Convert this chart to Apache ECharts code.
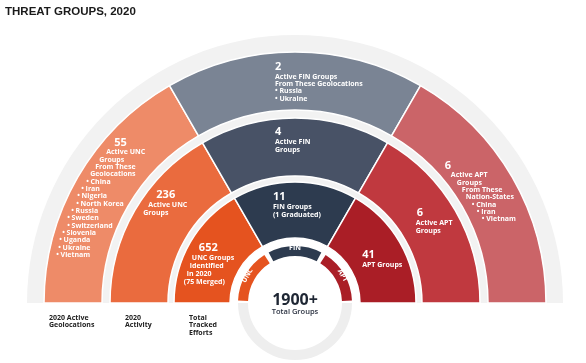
<!DOCTYPE html>
<html><head><meta charset="utf-8">
<script src="https://cdn.jsdelivr.net/npm/echarts@6/dist/echarts.min.js"></script>
<style>html,body{margin:0;padding:0;background:#fff}#c{width:586px;height:363px}</style>
</head><body><div id="c"></div>
<script>
// ---------------- DATA ----------------
const groups = ['UNC', 'FIN', 'APT'];
const sliceShare = [1, 1, 1];            // equal-angle sectors in the infographic
const geoCounts = [55, 2, 6];            // 2020 Active Geolocations
const activeCounts = [236, 4, 6];        // 2020 Activity
const trackedCounts = [652, 11, 41];     // Total Tracked Efforts
const totalGroups = '1900+';
const totalLabel = 'Total Groups';
const uncGeolocations = ['China', 'Iran', 'Nigeria', 'North Korea', 'Russia', 'Sweden', 'Switzerland', 'Slovenia', 'Uganda', 'Ukraine', 'Vietnam'];
const finGeolocations = ['Russia', 'Ukraine'];
const aptNationStates = ['China', 'Iran', 'Vietnam'];
const ringTitles = [['2020 Active', 'Geolocations'], ['2020', 'Activity'], ['Total', 'Tracked', 'Efforts']];
const chartTitle = 'THREAT GROUPS, 2020';

const bullet = s => '\u2022 ' + s;
const geoText = [
  ['Active UNC', 'Groups', 'From These', 'Geolocations'].concat(uncGeolocations.map(bullet)),
  ['Active FIN Groups', 'From These Geolocations'].concat(finGeolocations.map(bullet)),
  ['Active APT', 'Groups', 'From These', 'Nation-States'].concat(aptNationStates.map(bullet))
];
const activeText = [['Active UNC', 'Groups'], ['Active FIN', 'Groups'], ['Active APT', 'Groups']];
const trackedText = [['UNC Groups', 'identified', 'in 2020', '(75 Merged)'], ['FIN Groups', '(1 Graduated)'], ['APT Groups']];

// ---------------- LAYOUT / STYLE ----------------
const CX = 295, CY = 303;
const FONT = 'Open Sans';
const rings = [
  { radius: [193, 251], colors: ['#EE8B68', '#7A8494', '#CB6468'], counts: geoCounts, text: geoText, lh: 7.35,
    pads: [[58, 50, 43, 39, 34, 30, 25, 21, 20, 15, 11, 11, 6, 3, 2, 0], [0, 0, 0, 0, 0], [0, 6, 12, 17, 21, 27, 32, 37]],
    offsets: [[-44, -54], [-20, -17], [-45, -31]] },
  { radius: [127, 185], colors: ['#EA6B3E', '#485266', '#C0393F'], counts: activeCounts, text: activeText, lh: 8,
    pads: [[13, 5, 0], [0, 0, 0], [1, 0, 0]],
    offsets: [[-14, -35], [-20, -18], [-17, -17]] },
  { radius: [65, 121], colors: ['#E5531F', '#2D3B4F', '#AA1E26'], counts: trackedCounts, text: trackedText, lh: 8,
    pads: [[15, 8, 6, 3, 0], [0, 0, 0], [0, 0]],
    offsets: [[-28, -13], [-22, -16], [-16, -6]] }
];

function makeRich(lh) {
  const rich = {
    n: { fontFamily: FONT, fontSize: 11, fontWeight: 'bold', color: '#fff', lineHeight: 12, align: 'left' },
    t: { fontFamily: FONT, fontSize: 7, fontWeight: 'bold', color: '#fff', lineHeight: lh, align: 'left' }
  };
  for (let k = 0; k <= 70; k++) rich['p' + k] = { width: k, fontSize: 6, lineHeight: 6, align: 'left' };
  return rich;
}

function blockText(count, lines, pads) {
  let s = '{p' + pads[0] + '|}{n|' + count + '}';
  lines.forEach((l, i) => { s += '\n{p' + pads[i + 1] + '|}{t|' + l + '}'; });
  return s;
}

const series = [];
// light gray backdrop for the ring gaps
[[251, 268], [185, 193], [121, 127]].forEach(r => {
  series.push({ type: 'pie', silent: true, radius: r, center: [CX, CY], startAngle: 180, endAngle: 0,
    label: { show: false }, labelLine: { show: false }, itemStyle: { color: '#F2F2F2' }, data: [{ value: 1 }], z: 1 });
});
// lower half of the inner gray circle ring
series.push({ type: 'pie', silent: true, radius: [47, 57], center: [CX, CY], startAngle: 0, endAngle: -180,
  label: { show: false }, labelLine: { show: false }, itemStyle: { color: '#EEEEEE' }, data: [{ value: 1 }], z: 1 });

rings.forEach(ring => {
  series.push({
    type: 'pie', radius: ring.radius, center: [CX, CY], startAngle: 180, endAngle: 0, clockwise: true,
    z: 2,
    itemStyle: { borderColor: '#fff', borderWidth: 1.5 },
    labelLine: { show: false },
    label: { show: true, position: 'inside', fontSize: 7, lineHeight: ring.lh, rich: makeRich(ring.lh),
      formatter: p => blockText(ring.counts[p.dataIndex], ring.text[p.dataIndex], ring.pads[p.dataIndex]) },
    labelLayout: p => {
      const o = ring.offsets[p.dataIndex], r = p.labelRect;
      return { x: r.x + r.width / 2 + o[0], y: r.y + r.height / 2 + o[1], align: 'left', verticalAlign: 'top' };
    },
    data: groups.map((g, i) => ({ name: g, value: sliceShare[i], itemStyle: { color: ring.colors[i] } }))
  });
});
// small group-name ring
series.push({
  type: 'pie', radius: [47, 57], center: [CX, CY], startAngle: 180, endAngle: 0, clockwise: true, padAngle: 5, z: 2,
  labelLine: { show: false },
  label: { show: true, position: 'inside', rotate: 'tangential', color: '#fff', fontFamily: FONT, fontSize: 7, fontWeight: 'bold', formatter: '{b}' },
  data: groups.map((g, i) => ({ name: g, value: sliceShare[i], itemStyle: { color: rings[2].colors[i] } }))
});

const graphic = [
  { type: 'text', x: CX, y: 292, style: { text: totalGroups, fontFamily: FONT, fontSize: 16, fontWeight: 'bold', fill: '#1E2633', align: 'center' } },
  { type: 'text', x: CX, y: 308, style: { text: totalLabel, fontFamily: FONT, fontSize: 7.5, fontWeight: 600, fill: '#2A3140', align: 'center' } }
];
const legendX = [49, 125, 189];
ringTitles.forEach((lines, i) => {
  graphic.push({ type: 'text', x: legendX[i], y: 314, style: { text: lines.join('\n'), fontFamily: FONT, fontSize: 7, fontWeight: 'bold', lineHeight: 7.6, fill: '#222' } });
});

const chart = echarts.init(document.getElementById('c'), null, { renderer: 'canvas' });
chart.setOption({
  animation: false,
  backgroundColor: '#fff',
  title: { text: chartTitle, left: 5, top: 6, padding: 0, textStyle: { fontFamily: 'Liberation Sans', fontSize: 11.5, fontWeight: 'bold', color: '#1A1A1A' } },
  series: series,
  graphic: graphic
});
</script></body></html>
